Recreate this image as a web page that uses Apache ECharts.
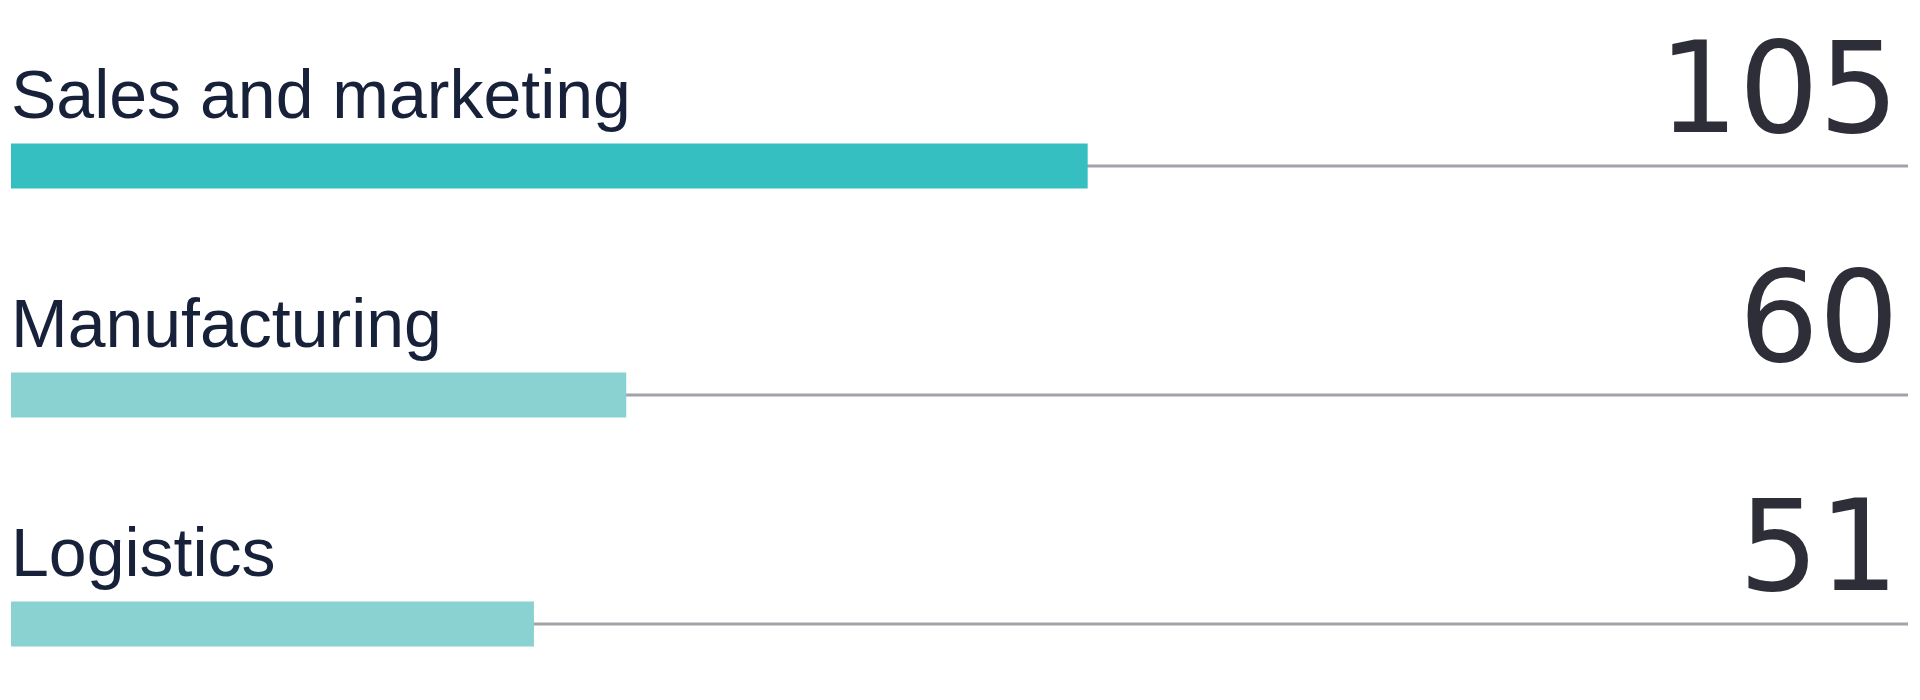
<!DOCTYPE html>
<html>
<head>
<meta charset="utf-8">
<script src="https://cdn.jsdelivr.net/npm/echarts@6/dist/echarts.min.js"></script>
<style>
  html, body { margin: 0; padding: 0; background: #fff; }
  #chart { width: 1920px; height: 700px; }
</style>
</head>
<body>
<div id="chart"></div>
<script>
// data
const categories = ['Sales and marketing', 'Manufacturing', 'Logistics'];
const values = [105, 60, 51];
const barColors = ['#35bfc1', '#8ad2d2', '#8ad2d2'];
const axisMax = 185;

const chart = echarts.init(document.getElementById('chart'));

const trackData = categories.map(() => axisMax);

// boundaryGap false puts first/last category on the grid edges,
// so the rows span top..bottom of the grid
const catAxis = {
  type: 'category',
  data: categories,
  inverse: true,
  boundaryGap: false,
  show: false
};

const option = {
  animation: false,
  grid: { left: 11, right: 12, top: 166, bottom: 76, containLabel: false },
  xAxis: {
    type: 'value',
    min: 0,
    max: axisMax,
    show: false
  },
  yAxis: [catAxis, Object.assign({}, catAxis)],
  series: [
    {
      // thin grey track with the value on the right
      type: 'bar',
      yAxisIndex: 1,
      data: trackData,
      barWidth: 3,
      z: 1,
      silent: true,
      itemStyle: { color: '#a3a2ab' },
      label: {
        show: true,
        position: ['100%', 0],
        align: 'right',
        verticalAlign: 'bottom',
        offset: [-9, -2],
        formatter: p => String(values[p.dataIndex]),
        fontFamily: 'DejaVu Sans',
        fontSize: 126,
        lineHeight: 126,
        color: '#2e2e38'
      }
    },
    {
      type: 'bar',
      yAxisIndex: 0,
      data: values.map((v, i) => ({ value: v, itemStyle: { color: barColors[i] } })),
      barWidth: 45,
      z: 2,
      label: {
        show: true,
        position: [0, 0],
        align: 'left',
        verticalAlign: 'bottom',
        offset: [0, -10],
        formatter: p => categories[p.dataIndex],
        fontFamily: 'Liberation Sans',
        fontSize: 68,
        lineHeight: 68,
        color: '#18213a'
      }
    }
  ]
};

chart.setOption(option);
</script>
</body>
</html>
